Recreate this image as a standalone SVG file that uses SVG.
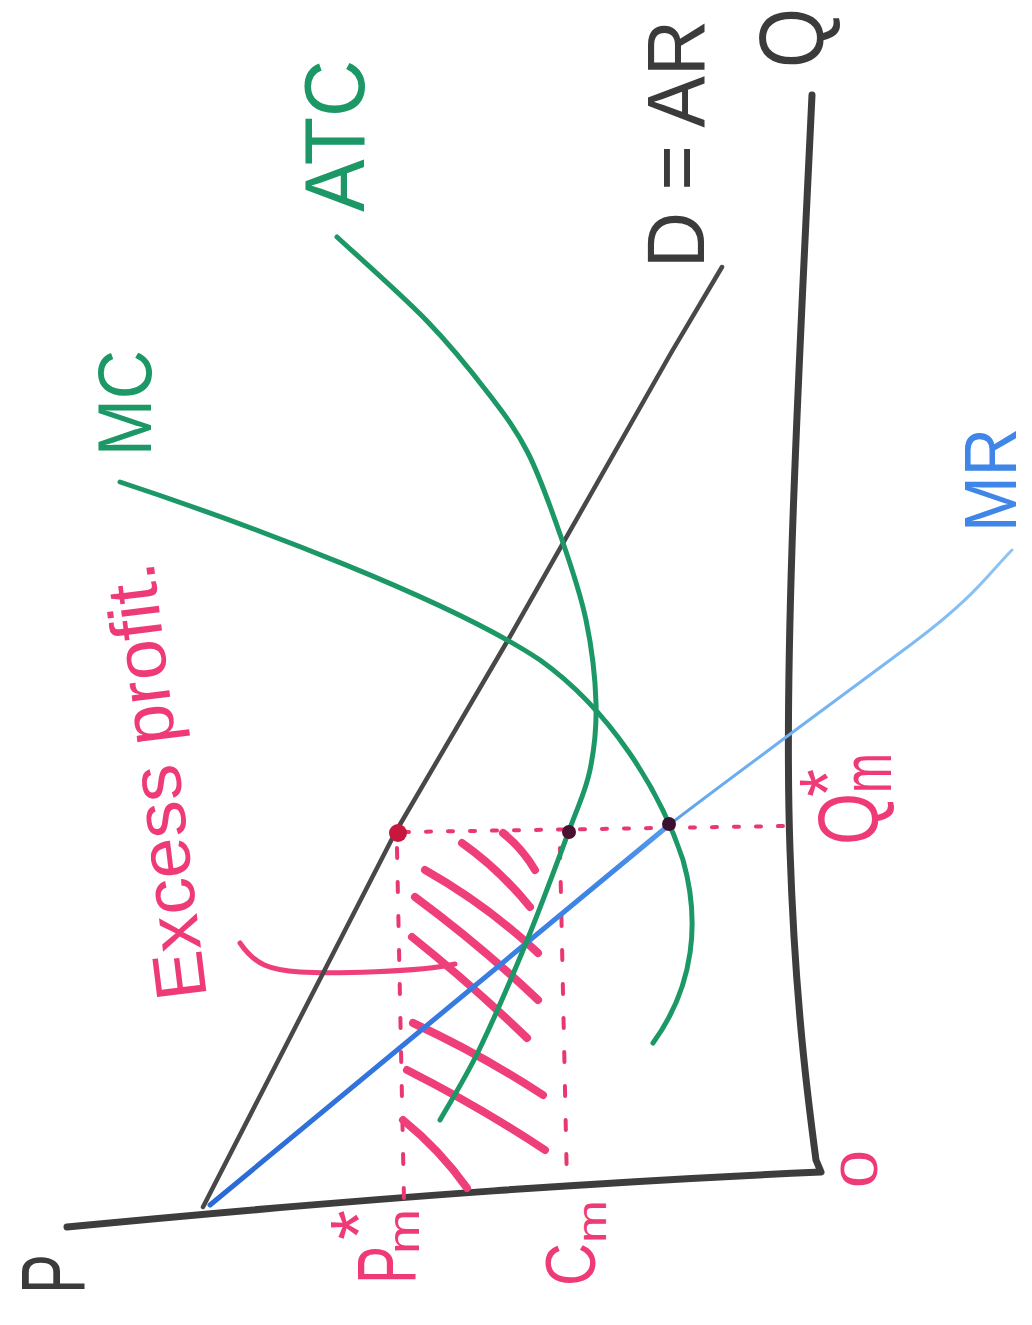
<svg xmlns="http://www.w3.org/2000/svg" width="1032" height="1325" viewBox="0 0 1032 1325">
<style>
.lbl{font-family:"Liberation Sans",Arial,sans-serif;}
.pink{fill:#ef3a78;}
.green{fill:#1b9866;}
.dark{fill:#3b3b3b;}
.blue{fill:#3f86e8;}
.ax{fill:none;stroke:#3d3d3d;stroke-width:7;stroke-linecap:round;stroke-linejoin:round;}
.dl{fill:none;stroke:#484848;stroke-width:4.5;stroke-linecap:round;stroke-linejoin:round;}
.gr{fill:none;stroke:#1b9866;stroke-width:5;stroke-linecap:round;}
.hatch{fill:none;stroke:#ef3f7b;stroke-width:8;stroke-linecap:round;}
.dot{fill:none;stroke:#e8386f;stroke-width:4;stroke-linecap:round;}
</style>
<defs>
<linearGradient id="mrg" gradientUnits="userSpaceOnUse" x1="210" y1="1205" x2="1012" y2="550">
<stop offset="0" stop-color="#2a69d6"/>
<stop offset="0.5" stop-color="#3f86e6"/>
<stop offset="0.62" stop-color="#66aaf0"/>
<stop offset="1" stop-color="#8cc4f4"/>
</linearGradient>
</defs>
<rect width="1032" height="1325" fill="#ffffff"/>

<g id="axes">
<path class="ax" d="M812,95 C800,350 783,650 790,850 C795,1000 808,1100 816,1160 L821,1172 C620,1181 400,1195 67,1227"/>
</g>

<g id="profit-area">
<path class="dot" stroke-dasharray="5 17" d="M404,832 L785,826"/>
<path class="dot" stroke-width="3.5" stroke-dasharray="10 24" d="M397,848 L404,1200"/>
<path class="dot" stroke-width="3.5" stroke-dasharray="10 24" d="M560,848 L567,1186"/>
<path class="hatch" d="M503,833 Q522,848 535,870"/>
<path class="hatch" d="M462,843 Q500,870 530,907"/>
<path class="hatch" d="M425,870 Q487,905 538,953"/>
<path class="hatch" d="M415,897 Q480,945 538,1000"/>
<path class="hatch" d="M412,937 Q472,985 527,1038"/>
<path class="hatch" d="M413,1023 Q482,1055 543,1095"/>
<path class="hatch" d="M407,1070 Q480,1107 545,1150"/>
<path class="hatch" d="M403,1120 Q440,1150 467,1188"/>
<path fill="none" stroke="#ef3f7b" stroke-width="5" stroke-linecap="round" d="M240,943 C255,965 270,970 300,972 S420,972 455,964"/>
</g>

<g id="connectors">
<path id="D" class="dl" d="M203,1207 L280,1057 L395,833 L508,640 L671,353 L722,267"/>
<path id="MR-low" fill="none" stroke="url(#mrg)" stroke-width="5" stroke-linecap="round" d="M210,1205 L669,825"/>
<path id="MR-high" fill="none" stroke="url(#mrg)" stroke-width="3" stroke-linecap="round" d="M669,825 C730,778 850,690 913,643 S990,572 1012,550"/>
<path id="MC" class="gr" d="M120,482 C250,525 450,600 540,660 C610,710 660,790 683,860 C700,920 695,985 653,1043"/>
<path id="ATC" class="gr" d="M337,237 C351.8,250.8 400.8,294 426,320 C451.2,346 471,370.8 488,393 C505,415.2 515.8,429 528,453 C540.2,477 551.3,509.2 561,537 C570.7,564.8 580.2,592.3 586,620 C591.8,647.7 595.3,678 596,703 C596.7,728 594.3,749.2 590,770 C585.7,790.8 580.7,799.2 570,828 C559.3,856.8 541.2,906 526,943 C510.8,980 493.3,1020.5 479,1050 C464.7,1079.5 446.5,1108.3 440,1120"/>
</g>

<g id="points">
<circle cx="398" cy="833" r="9" fill="#c8173f"/>
<circle cx="569" cy="832" r="7" fill="#4a1030"/>
<circle cx="669" cy="824" r="7" fill="#3b1030"/>
</g>

<g id="labels" class="lbl">
<text id="lbl-P" class="dark" font-size="90" textLength="40" lengthAdjust="spacingAndGlyphs" transform="translate(84,1294) rotate(-90)">P</text>
<text id="lbl-Q" class="dark" font-size="90" textLength="60" lengthAdjust="spacingAndGlyphs" transform="translate(823,68) rotate(-90)">Q</text>
<text id="lbl-DAR" class="dark" font-size="82" textLength="248" lengthAdjust="spacingAndGlyphs" transform="translate(704,268) rotate(-90)">D = AR</text>
<text id="lbl-ATC" class="green" font-size="86" textLength="152" lengthAdjust="spacingAndGlyphs" transform="translate(364,212) rotate(-90)">ATC</text>
<text id="lbl-MC" class="green" font-size="76" textLength="106" lengthAdjust="spacingAndGlyphs" transform="translate(151,456) rotate(-90)">MC</text>
<text id="lbl-MR" class="blue" font-size="74" textLength="104" lengthAdjust="spacingAndGlyphs" transform="translate(1016,532) rotate(-90)">MR</text>
<text id="lbl-0" class="pink" font-size="52" textLength="38" lengthAdjust="spacingAndGlyphs" transform="translate(877,1188) rotate(-90)">0</text>
<text id="lbl-excess" class="pink" font-size="72" textLength="440" lengthAdjust="spacingAndGlyphs" transform="translate(207,997) rotate(-97)">Excess profit.</text>
<g id="lbl-Pm">
<text class="pink" font-size="84" textLength="38" lengthAdjust="spacingAndGlyphs" transform="translate(415,1284) rotate(-90)">P</text>
<text class="pink" font-size="80" textLength="30" lengthAdjust="spacingAndGlyphs" transform="translate(386,1240) rotate(-90)">*</text>
<text class="pink" font-size="44" textLength="45" lengthAdjust="spacingAndGlyphs" transform="translate(419,1254) rotate(-90)">m</text>
</g>
<g id="lbl-Cm">
<text class="pink" font-size="70" textLength="43" lengthAdjust="spacingAndGlyphs" transform="translate(595,1286) rotate(-90)">C</text>
<text class="pink" font-size="40" textLength="43" lengthAdjust="spacingAndGlyphs" transform="translate(606,1243) rotate(-90)">m</text>
</g>
<g id="lbl-Qm">
<text class="pink" font-size="86" textLength="52" lengthAdjust="spacingAndGlyphs" transform="translate(878,845) rotate(-90)">Q</text>
<text class="pink" font-size="80" textLength="28" lengthAdjust="spacingAndGlyphs" transform="translate(855,797) rotate(-90)">*</text>
<text class="pink" font-size="70" textLength="40" lengthAdjust="spacingAndGlyphs" transform="translate(891,793) rotate(-90)">m</text>
</g>
</g>
</svg>
